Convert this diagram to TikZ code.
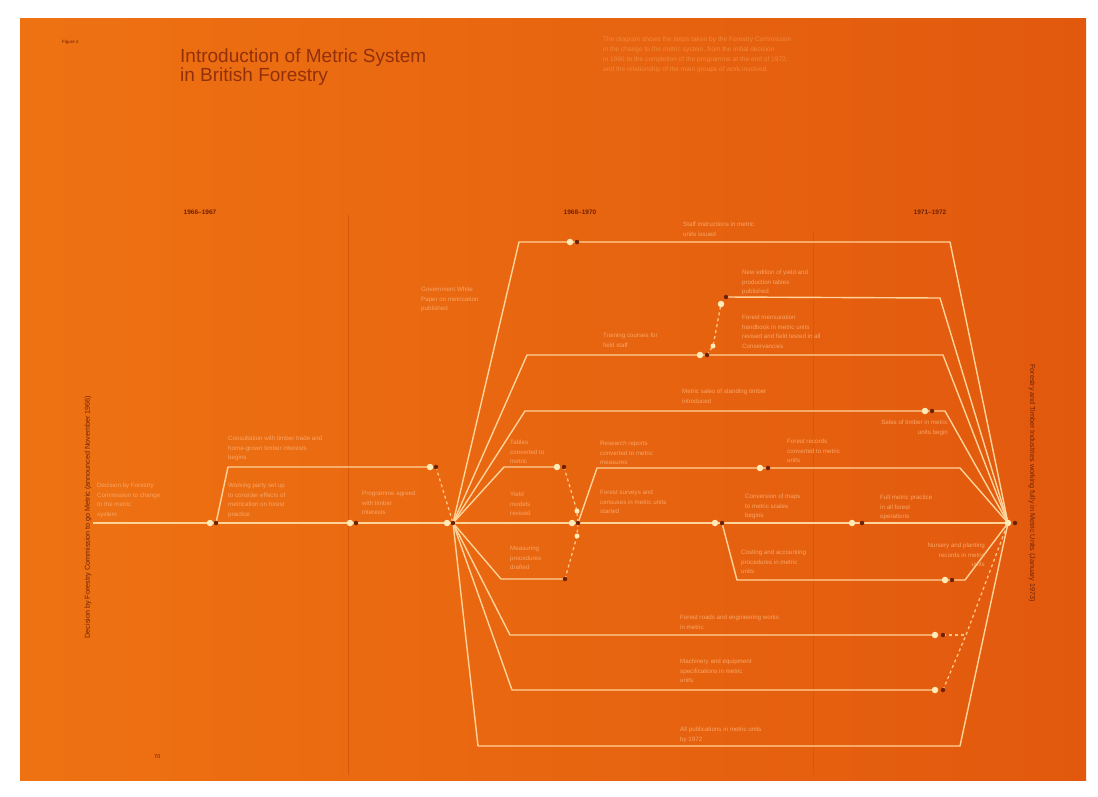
\documentclass[tikz,border=0pt]{standalone}
\usepackage{fontspec}
\setmainfont{Liberation Sans}
\pgfdeclarelayer{bgfill}
\pgfdeclarelayer{lines}
\pgfsetlayers{bgfill,lines,main}
\definecolor{bgL}{HTML}{EE7212}
\definecolor{bgR}{HTML}{E2590E}
\definecolor{gridc}{HTML}{D85808}
\definecolor{ln}{HTML}{FFD39A}
\definecolor{lab}{HTML}{F9A566}
\definecolor{dk}{HTML}{6E2205}
\definecolor{ttl}{HTML}{93300C}
\definecolor{ldotc}{HTML}{FFEBB8}
\definecolor{para}{HTML}{F3893C}
\tikzset{
  conn/.style={draw=ln, line width=1.4pt, line join=round},
  dconn/.style={draw=ln!85!orange, line width=1.3pt, dash pattern=on 3pt off 3pt},
  lightdot/.style={circle, fill=ldotc, inner sep=0pt, minimum size=6.5pt},
  smalldot/.style={circle, fill=ldotc, inner sep=0pt, minimum size=5pt},
  darkdot/.style={circle, fill=dk, inner sep=0pt, minimum size=4.5pt},
  lbl/.style={anchor=north west, inner sep=0pt, align=left, text=lab, font=\fontsize{6.2}{9.6}\selectfont},
  lblr/.style={lbl, anchor=north east, align=right},
  period/.style={text=dk, inner sep=0pt, font=\bfseries\fontsize{6.5}{8}\selectfont},
  vtext/.style={text=dk, inner sep=0pt, font=\fontsize{7.2}{8}\selectfont}
}
\begin{document}
\begin{tikzpicture}[x=1pt,y=-1pt]
\useasboundingbox (0,0) rectangle (1098,796);
\begin{pgfonlayer}{bgfill}
\fill[white] (0,0) rectangle (1098,796);
\shade[left color=bgL, right color=bgR] (20,18) rectangle (1086,780);
% period dividers
\draw[gridc, line width=1pt] (348,215) -- (348,775);
\draw[gridc, line width=1pt] (813,232) -- (813,775);
\end{pgfonlayer}

% header
\node[anchor=north west, inner sep=0pt, text=dk, font=\fontsize{4.5}{5}\selectfont] (fig) at (62,40) {Figure 2};
\node[anchor=north west, inner sep=0pt, align=left, text=ttl, font=\fontsize{19}{19}\selectfont] (title) at (180,49) {Introduction of Metric System\\in British Forestry};
\node[anchor=north west, inner sep=0pt, align=left, text=para, font=\fontsize{6.6}{10}\selectfont] (intro) at (603,37) {The diagram shows the steps taken by the Forestry Commission\\in the change to the metric system, from the initial decision\\in 1966 to the completion of the programme at the end of 1972,\\and the relationship of the main groups of work involved.};
\node[period] (p1) at (200,212) {1966--1967};
\node[period] (p2) at (580,212) {1968--1970};
\node[period] (p3) at (930,212) {1971--1972};
\node[vtext, rotate=90] (lv) at (88,517) {Decision by Forestry Commission to go Metric (announced November 1966)};
\node[vtext, rotate=-90] (rv) at (1032,483) {Forestry and Timber Industries working fully in Metric Units (January 1973)};
\node[anchor=north west, inner sep=0pt, text=dk, font=\fontsize{5.5}{6}\selectfont] (pg) at (154,754) {70};

% dots
\coordinate (S) at (93,523);
\node[lightdot] (A1) at (210,523) {}; \node[darkdot] (A1d) at (216,523) {};
\node[lightdot] (A2) at (350,523) {}; \node[darkdot] (A2d) at (356,523) {};
\node[lightdot] (B) at (430,467) {};  \node[darkdot] (Bd) at (436,467) {};
\node[lightdot] (H) at (447,523) {};  \node[darkdot] (Hd) at (453,523) {};
\node[lightdot] (C) at (570,242) {};  \node[darkdot] (Cd) at (577,242) {};
\node[lightdot] (D) at (700,355) {};  \node[darkdot] (Dd) at (707,355) {};
\node[smalldot] (Da) at (713,346) {};
\node[lightdot] (E) at (721,304) {};  \node[darkdot] (Ed) at (726,297) {};
\node[lightdot] (F) at (925,411) {};  \node[darkdot] (Fd) at (932,411) {};
\node[lightdot] (G) at (557,467) {};  \node[darkdot] (Gd) at (564,467) {};
\node[lightdot] (K) at (572,523) {};  \node[darkdot] (Kd) at (578,523) {};
\node[smalldot] (Ka) at (577,511) {}; \node[smalldot] (Kb) at (577,536) {};
\node[darkdot] (Ld) at (565,579) {};
\node[lightdot] (M) at (760,468) {};  \node[darkdot] (Md) at (768,468) {};
\node[lightdot] (N) at (715,523) {};  \node[darkdot] (Nd) at (722,523) {};
\node[lightdot] (Q) at (852,523) {};  \node[darkdot] (Qd) at (862,523) {};
\node[lightdot] (P) at (945,580) {};  \node[darkdot] (Pd) at (952,580) {};
\node[lightdot] (U) at (935,635) {};  \node[darkdot] (Ud) at (943,635) {};
\node[lightdot] (V) at (935,690) {};  \node[darkdot] (Vd) at (943,690) {};
\node[lightdot] (R) at (1008,523) {}; \node[darkdot] (Rd) at (1015,523) {};

% bend points
\coordinate (u1) at (228,467);
\coordinate (t1) at (519,242); \coordinate (c1) at (950,242);
\coordinate (t2) at (527,355); \coordinate (c2) at (943,355);
\coordinate (c2a) at (940,298);
\coordinate (t3) at (525,411); \coordinate (c3) at (945,411);
\coordinate (t4) at (504,467);
\coordinate (t5) at (501,579);
\coordinate (k1) at (597,468); \coordinate (c4) at (960,468);
\coordinate (n1) at (737,580); \coordinate (c5) at (965,580);
\coordinate (t6) at (510,635);
\coordinate (t7) at (512,690);
\coordinate (t8) at (478,746); \coordinate (c8) at (960,746);
\coordinate (x6) at (966,635);

\begin{pgfonlayer}{lines}
\draw[conn] (S) -- (A1.center) -- (A2.center) -- (H.center) -- (K.center) -- (N.center) -- (Q.center) -- (R.center);
\draw[conn] (A1d.center) -- (u1) -- (B.center);
\draw[dconn] (Bd.center) -- (Hd.center);
\draw[conn] (Hd.center) -- (t1) -- (C.center) -- (c1) -- (R.center);
\draw[conn] (Hd.center) -- (t2) -- (D.center) -- (c2) -- (R.center);
\draw[dconn] (Dd.center) -- (Da.center) -- (E.center);
\draw[conn] (Ed.center) -- (c2a) -- (R.center);
\draw[conn] (Hd.center) -- (t3) -- (F.center) -- (c3) -- (R.center);
\draw[conn] (Hd.center) -- (t4) -- (G.center);
\draw[dconn] (Gd.center) -- (Ka.center) -- (Kd.center);
\draw[conn] (Hd.center) -- (t5) -- (Ld.center);
\draw[dconn] (Ld.center) -- (Kb.center) -- (Kd.center);
\draw[conn] (Kd.center) -- (k1) -- (M.center) -- (c4) -- (R.center);
\draw[conn] (Nd.center) -- (n1) -- (P.center) -- (c5) -- (R.center);
\draw[conn] (Hd.center) -- (t6) -- (U.center);
\draw[conn] (Hd.center) -- (t7) -- (V.center);
\draw[conn] (Hd.center) -- (t8) -- (c8) -- (R.center);
\draw[dconn] (Vd.center) -- (x6) -- (R.center);
\draw[dconn] (Ud.center) -- (x6);
\end{pgfonlayer}

% labels
\node[lbl] (l1) at (97,483) {Decision by Forestry\\Commission to change\\to the metric\\system};
\node[lbl] (l2) at (228,436) {Consultation with timber trade and\\home-grown timber interests\\begins};
\node[lbl] (l3) at (228,483) {Working party set up\\to consider effects of\\metrication on forest\\practice};
\node[lbl] (l4) at (362,491) {Programme agreed\\with timber\\interests};
\node[lbl] (l5) at (421,287) {Government White\\Paper on metrication\\published};
\node[lbl] (l6) at (510,440) {Tables\\converted to\\metric};
\node[lbl] (l7) at (510,492) {Yield\\models\\revised};
\node[lbl] (l8) at (510,546) {Measuring\\procedures\\drafted};
\node[lbl] (l9) at (603,333) {Training courses for\\field staff};
\node[lbl] (l10) at (683,222) {Staff instructions in metric\\units issued};
\node[lbl] (l11) at (742,270) {New edition of yield and\\production tables\\published};
\node[lbl] (l12) at (742,315) {Forest mensuration\\handbook in metric units\\revised and field tested in all\\Conservancies};
\node[lbl] (l13) at (682,389) {Metric sales of standing timber\\introduced};
\node[lblr] (l14) at (948,420) {Sales of timber in metric\\units begin};
\node[lbl] (l15) at (600,441) {Research reports\\converted to metric\\measures};
\node[lbl] (l16) at (600,490) {Forest surveys and\\censuses in metric units\\started};
\node[lbl] (l17) at (787,439) {Forest records\\converted to metric\\units};
\node[lbl] (l18) at (745,494) {Conversion of maps\\to metric scales\\begins};
\node[lbl] (l19) at (880,495) {Full metric practice\\in all forest\\operations};
\node[lbl] (l20) at (741,550) {Costing and accounting\\procedures in metric\\units};
\node[lblr] (l21) at (985,543) {Nursery and planting\\records in metric\\units};
\node[lbl] (l22) at (680,615) {Forest roads and engineering works\\in metric};
\node[lbl] (l23) at (680,659) {Machinery and equipment\\specifications in metric\\units};
\node[lbl] (l24) at (680,727) {All publications in metric units\\by 1972};
\end{tikzpicture}
\end{document}
